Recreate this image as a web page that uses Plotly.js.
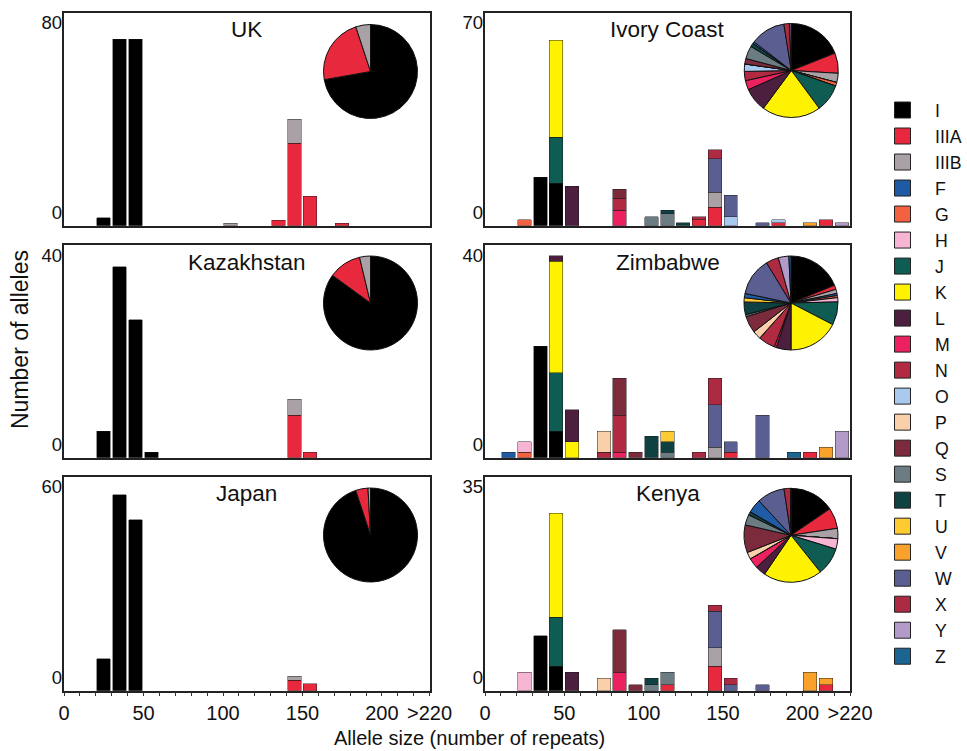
<!DOCTYPE html>
<html><head><meta charset="utf-8">
<script src="https://cdn.plot.ly/plotly-3.0.1.min.js"></script>
<style>html,body{margin:0;padding:0;background:#fff}#chart{width:967px;height:751px}</style>
</head><body><div id="chart"></div>
<script>
// ---------- data ----------
const genotypes = ["I","IIIA","IIIB","F","G","H","J","K","L","M","N","O","P","Q","S","T","U","V","W","X","Y","Z"];
const genotypeColors = ["#000000","#e8283c","#a9a1a6","#1f5aa5","#f26140","#f5b5d3","#0e5c52","#fff200","#4b1f3d","#ec2160","#b12a41","#a9c9ee","#fad0aa","#7b2b3c","#6b7c82","#0f4042","#ffcb33","#f8a12b","#5b5e91","#ac2b42","#b39bc9","#1c6492"];
// in the original pies, genotype V is drawn in blue
const pieColors = ["#000000","#e8283c","#a9a1a6","#1f5aa5","#f26140","#f5b5d3","#0e5c52","#fff200","#4b1f3d","#ec2160","#b12a41","#a9c9ee","#fad0aa","#7b2b3c","#6b7c82","#0f4042","#ffcb33","#1f5ca5","#5b5e91","#ac2b42","#b39bc9","#1c6492"];
const populations = ["UK","Kazakhstan","Japan","Ivory Coast","Zimbabwe","Kenya"];
const yMaxLabels = [80,40,60,70,40,35];
const xTickVals = [0,10,20,30,40,50,60,70,80,90,100,110,120,130,140,150,160,170,180,190,200,210,220,230];
const xTickText = ["0","","","","","50","","","","","100","","","","","150","","","","","200","","",">220"];

// [genotype, bin start (repeats), number of alleles]
const ukCounts = [
  ["I",20,3],["I",30,70],["I",40,70],
  ["IIIA",130,2],["IIIA",140,31],["IIIA",150,11],["IIIA",170,1],
  ["IIIB",100,1],["IIIB",140,9]
];
const kazakhstanCounts = [
  ["I",20,5],["I",30,36],["I",40,26],["I",50,1],
  ["IIIA",140,8],["IIIA",150,1],
  ["IIIB",140,3]
];
const japanCounts = [
  ["I",20,9],["I",30,55],["I",40,48],
  ["IIIA",140,3],["IIIA",150,2],
  ["IIIB",140,1]
];
const ivoryCoastCounts = [
  ["I",30,16],["I",40,14],
  ["IIIA",130,2],["IIIA",140,6],["IIIA",180,1],["IIIA",210,2],
  ["IIIB",140,5],
  ["G",20,2],
  ["J",40,15],
  ["K",40,32],
  ["L",50,13],
  ["M",80,5],
  ["N",80,4],["N",130,1],
  ["O",150,3],["O",180,1],
  ["Q",80,3],
  ["S",100,3],["S",110,4],
  ["T",110,1],["T",120,1],
  ["V",200,1],
  ["W",140,11],["W",150,7],["W",170,1],
  ["X",140,3],
  ["Y",220,1]
];
const zimbabweCounts = [
  ["I",30,21],["I",40,5],
  ["IIIA",150,1],["IIIA",200,1],
  ["IIIB",140,2],
  ["F",10,1],
  ["G",20,1],
  ["H",20,2],
  ["J",40,11],
  ["K",40,21],["K",50,3],
  ["L",40,1],["L",50,6],
  ["M",80,1],
  ["N",70,1],["N",80,7],
  ["P",70,4],
  ["Q",80,7],["Q",90,1],
  ["S",110,1],
  ["T",100,4],["T",110,2],
  ["U",110,2],
  ["V",210,2],
  ["W",140,8],["W",150,2],["W",170,8],
  ["X",130,1],["X",140,5],
  ["Y",220,5],
  ["Z",190,1]
];
const kenyaCounts = [
  ["I",30,9],["I",40,4],
  ["IIIA",110,1],["IIIA",140,4],["IIIA",210,1],
  ["IIIB",140,3],
  ["H",20,3],
  ["J",40,8],
  ["K",40,17],
  ["L",50,3],
  ["M",80,3],
  ["P",70,2],
  ["Q",80,7],["Q",90,1],
  ["S",100,1],["S",110,2],
  ["T",100,1],
  ["V",200,3],["V",210,1],
  ["W",140,6],["W",150,1],["W",170,1],
  ["X",140,1],["X",150,1]
];
const populationCounts = [ukCounts,kazakhstanCounts,japanCounts,ivoryCoastCounts,zimbabweCounts,kenyaCounts];

// ---------- layout geometry (pixels) ----------
const W = 967, H = 751;
const colX = [[64.1,429.6],[485,850]];
const rowY = [[12.7,225.7],[245.3,457.7],[476.7,690.7]];
const pieCenters = [[370.5,71.5],[370.5,303],[370.5,535],[791.3,70.5],[791,303],[791,535.3]];
const pieR = 47;
// the y tick labels sit slightly inside the frame in the original figure
const labelInsetTop = 10, labelInsetBottom = 13;
const FONT = "Liberation Sans, Arial, Helvetica, sans-serif";
const px = v => v / W;
const py = v => 1 - v / H;
const sfx = n => (n === 1 ? "" : String(n));

const traces = [];
const layout = {
  width: W, height: H,
  margin: {l:0,r:0,t:0,b:0,autoexpand:false},
  paper_bgcolor: "#fff", plot_bgcolor: "#fff",
  barmode: "stack",
  showlegend: true,
  font: {family: FONT, color: "#111"},
  legend: {
    x: px(870), xanchor: "left", y: py(92), yanchor: "top",
    traceorder: "normal",
    font: {family: FONT, size: 17.7, color: "#111"},
    itemwidth: 55, bgcolor: "rgba(0,0,0,0)", borderwidth: 0,
    itemclick: false, itemdoubleclick: false
  },
  annotations: []
};

// legend entries
genotypes.forEach((g, i) => {
  traces.push({
    type: "scatter", mode: "markers", x: [null], y: [null], name: g,
    xaxis: "x", yaxis: "y", hoverinfo: "skip",
    marker: {symbol: "square", size: 16, color: genotypeColors[i], line: {width: 1, color: "#222"}}
  });
});

populations.forEach((pop, p) => {
  const col = p < 3 ? 0 : 1, row = p % 3;
  const ax = p + 1, axLab = p + 7;
  const isBottom = row === 2;
  const yMax = yMaxLabels[p];
  const h = rowY[row][1] - rowY[row][0];
  const s = (h - labelInsetTop - labelInsetBottom) / yMax;
  layout["xaxis" + sfx(ax)] = {
    domain: [px(colX[col][0]), px(colX[col][1])],
    anchor: "y" + sfx(ax),
    range: [0, 230], fixedrange: true,
    showline: true, mirror: true, linecolor: "#222", linewidth: 1.5,
    showgrid: false, zeroline: false,
    tickmode: "array", tickvals: xTickVals, ticktext: xTickText,
    ticks: isBottom ? "outside" : "", ticklen: 4, tickwidth: 1, tickcolor: "#333",
    showticklabels: isBottom,
    tickfont: {family: FONT, size: 20, color: "#111"}
  };
  layout["yaxis" + sfx(ax)] = {
    domain: [py(rowY[row][1]), py(rowY[row][0])],
    anchor: "x" + sfx(ax),
    range: [0, yMax], fixedrange: true,
    showline: true, mirror: true, linecolor: "#222", linewidth: 1.5,
    showgrid: false, zeroline: false, showticklabels: false, ticks: ""
  };
  // label axis: shows the 0 and maximum labels where the original prints them
  layout["yaxis" + axLab] = {
    overlaying: "y" + sfx(ax), anchor: "x" + sfx(ax), side: "left",
    range: [-labelInsetBottom / s, yMax + labelInsetTop / s], fixedrange: true,
    showline: false, showgrid: false, zeroline: false,
    tickmode: "array", tickvals: [0, yMax], ticktext: ["0", String(yMax)], ticks: "",
    ticklabelstandoff: 1,
    tickfont: {family: FONT, size: 18.5, color: "#111"}
  };
  traces.push({type: "scatter", mode: "markers", x: [null], y: [null], showlegend: false,
    hoverinfo: "skip", xaxis: "x" + sfx(ax), yaxis: "y" + axLab});

  const counts = populationCounts[p];
  const totals = genotypes.map(() => 0);
  genotypes.forEach((g, gi) => {
    const rows = counts.filter(r => r[0] === g);
    if (!rows.length) return;
    rows.forEach(r => totals[gi] += r[2]);
    traces.push({
      type: "bar", name: g, showlegend: false,
      x: rows.map(r => r[1]), y: rows.map(r => r[2]),
      width: 8.5, offset: 0.6,
      xaxis: "x" + sfx(ax), yaxis: "y" + sfx(ax),
      marker: {color: genotypeColors[gi], line: {width: 0.7, color: "rgba(25,25,25,0.65)"}},
      hovertemplate: pop + " – " + g + ": %{y}<extra></extra>"
    });
  });

  const c = pieCenters[p];
  traces.push({
    type: "pie", labels: genotypes, values: totals, sort: false, direction: "clockwise", rotation: 0,
    textinfo: "none", showlegend: false, hoverinfo: "label+value+percent",
    marker: {colors: pieColors, line: {width: 1, color: "#111"}},
    domain: {x: [px(c[0] - pieR), px(c[0] + pieR)], y: [py(c[1] + pieR), py(c[1] - pieR)]}
  });

  layout.annotations.push({
    text: pop, xref: "paper", yref: "paper",
    x: px((colX[col][0] + colX[col][1]) / 2), y: py(rowY[row][0] + 17),
    xanchor: "center", yanchor: "middle", showarrow: false,
    font: {family: FONT, size: 22.5, color: "#111"}
  });
});

layout.annotations.push({
  text: "Number of alleles", xref: "paper", yref: "paper",
  x: px(20), y: py(340), xanchor: "center", yanchor: "middle", textangle: -90, showarrow: false,
  font: {family: FONT, size: 23, color: "#111"}
});
layout.annotations.push({
  text: "Allele size (number of repeats)", xref: "paper", yref: "paper",
  x: px(469), y: py(738), xanchor: "center", yanchor: "middle", showarrow: false,
  font: {family: FONT, size: 20, color: "#111"}
});

Plotly.newPlot("chart", traces, layout, {displayModeBar: false});
</script>
</body></html>
